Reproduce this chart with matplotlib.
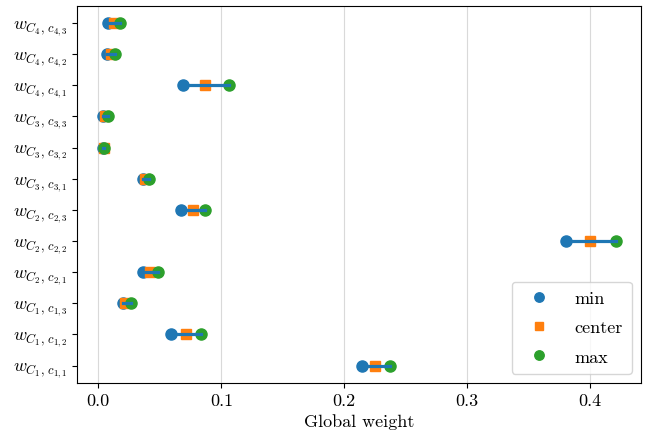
import numpy as np
import matplotlib
matplotlib.use('Agg')
import matplotlib.pyplot as plt

plt.rcParams['font.family'] = 'serif'
plt.rcParams['font.serif'] = ['cmr10']
plt.rcParams['mathtext.fontset'] = 'cm'
plt.rcParams['axes.formatter.use_mathtext'] = True
plt.rcParams['font.size'] = 13

# bottom to top
labels = [r'$w_{C_1,\,c_{1,1}}$', r'$w_{C_1,\,c_{1,2}}$', r'$w_{C_1,\,c_{1,3}}$',
          r'$w_{C_2,\,c_{2,1}}$', r'$w_{C_2,\,c_{2,2}}$', r'$w_{C_2,\,c_{2,3}}$',
          r'$w_{C_3,\,c_{3,1}}$', r'$w_{C_3,\,c_{3,2}}$', r'$w_{C_3,\,c_{3,3}}$',
          r'$w_{C_4,\,c_{4,1}}$', r'$w_{C_4,\,c_{4,2}}$', r'$w_{C_4,\,c_{4,3}}$']
w_min = [0.2146, 0.0593, 0.0203, 0.0366, 0.380, 0.0675, 0.036, 0.004, 0.004, 0.069, 0.0073, 0.008]
w_center = [0.225, 0.0715, 0.022, 0.042, 0.400, 0.077, 0.038, 0.0045, 0.0055, 0.087, 0.0106, 0.013]
w_max = [0.2374, 0.0837, 0.0268, 0.0488, 0.421, 0.087, 0.041, 0.005, 0.0075, 0.1065, 0.0138, 0.018]

y = np.arange(len(labels))

fig, ax = plt.subplots(figsize=(6.45, 4.35), dpi=100)
ax.grid(axis='x', color='#d9d9d9', linewidth=0.8)
ax.set_axisbelow(True)

ax.plot(w_min, y, 'o', color='tab:blue', markersize=8, linestyle='none', label='min')
ax.plot(w_center, y, 's', color='tab:orange', markersize=7.5, linestyle='none', label='center')
ax.plot(w_max, y, 'o', color='tab:green', markersize=8, linestyle='none', label='max')
for i in range(len(y)):
    ax.plot([w_min[i], w_max[i]], [y[i], y[i]], color='tab:blue', linewidth=2.3)

ax.set_yticks(y)
ax.set_yticklabels(labels)
ax.set_ylim(-0.55, len(y) - 0.45)
ax.set_xlim(-0.017, 0.4415)
ax.set_xticks([0.0, 0.1, 0.2, 0.3, 0.4])
ax.set_xticklabels(['0.0', '0.1', '0.2', '0.3', '0.4'])
ax.set_xlabel('Global weight')
ax.legend(loc='lower right', markerscale=0.85, handletextpad=1.0, borderpad=0.5, labelspacing=0.75)

plt.subplots_adjust(left=0.12, right=0.994, top=0.984, bottom=0.118)
plt.savefig('out.png')
